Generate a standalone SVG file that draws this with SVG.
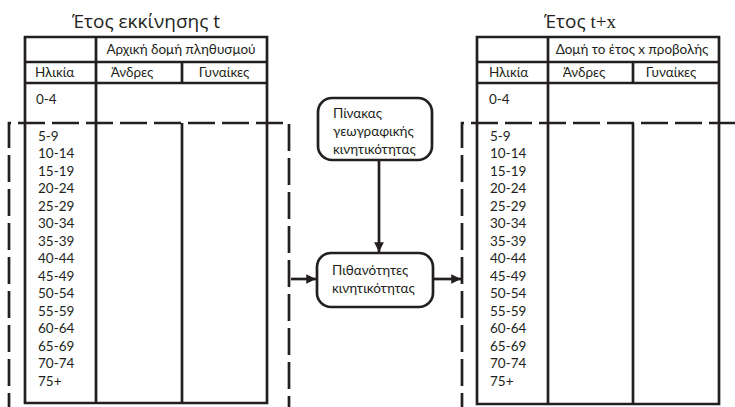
<svg xmlns="http://www.w3.org/2000/svg" width="735" height="407" viewBox="0 0 735 407">
<style>
.t{font-family:Lato,"Open Sans",sans-serif;font-size:13.5px;fill:#231f20}
.ti{font-family:"Open Sans","Noto Sans",sans-serif;font-size:19px;fill:#231f20}
.ln{stroke:#231f20;stroke-width:2.7;fill:none}
.ds{stroke:#231f20;stroke-width:2.7;fill:none;stroke-dasharray:27 7}
.bx{stroke:#231f20;stroke-width:2.7;fill:#fff}
</style>
<defs>
<marker id="ah" viewBox="0 0 10 10" refX="10" refY="5" markerWidth="4.4" markerHeight="3.6" orient="auto" markerUnits="strokeWidth">
<path d="M0,0 L10,5 L0,10 z" fill="#231f20"/>
</marker>
</defs>
<rect width="735" height="407" fill="#fff"/>

<g id="left-table">
<text class="ti" x="146" y="28" text-anchor="middle">Έτος εκκίνησης t</text>
<path class="ln" d="M25,37 H267 V403 H25 Z M25,62 H267 M25,83 H267 M96,37 V403 M182,62 V83 M182,123 V403"/>
<text class="t" x="181" y="54" text-anchor="middle">Αρχική δομή πληθυσμού</text>
<text class="t" x="35" y="77">Ηλικία</text>
<text class="t" x="132" y="77" text-anchor="middle">Άνδρες</text>
<text class="t" x="224" y="77" text-anchor="middle">Γυναίκες</text>
<text class="t" x="36" y="104">0-4</text>
<g class="t">
<text x="38" y="140.5">5-9</text>
<text x="38" y="158">10-14</text>
<text x="38" y="175.5">15-19</text>
<text x="38" y="193">20-24</text>
<text x="38" y="210.5">25-29</text>
<text x="38" y="228">30-34</text>
<text x="38" y="245.5">35-39</text>
<text x="38" y="263">40-44</text>
<text x="38" y="280.5">45-49</text>
<text x="38" y="298">50-54</text>
<text x="38" y="315.5">55-59</text>
<text x="38" y="333">60-64</text>
<text x="38" y="350.5">65-69</text>
<text x="38" y="368">70-74</text>
<text x="38" y="385.5">75+</text>
</g>
</g>

<g id="left-group">
<path class="ds" d="M9,420 V123 H289 V420"/>
</g>

<g id="right-table">
<text class="ti" x="580" y="28" text-anchor="middle">Έτος <tspan font-family="Liberation Serif,serif">t+x</tspan></text>
<path class="ln" d="M477,37 H719 V404 H477 Z M477,62 H719 M477,83 H719 M548,37 V404 M633,62 V83 M633,123 V404"/>
<text class="t" x="632" y="54" text-anchor="middle">Δομή το έτος x προβολής</text>
<text class="t" x="489" y="77">Ηλικία</text>
<text class="t" x="584" y="77" text-anchor="middle">Άνδρες</text>
<text class="t" x="671" y="77" text-anchor="middle">Γυναίκες</text>
<text class="t" x="489" y="104">0-4</text>
<g class="t">
<text x="490" y="140.5">5-9</text>
<text x="490" y="158">10-14</text>
<text x="490" y="175.5">15-19</text>
<text x="490" y="193">20-24</text>
<text x="490" y="210.5">25-29</text>
<text x="490" y="228">30-34</text>
<text x="490" y="245.5">35-39</text>
<text x="490" y="263">40-44</text>
<text x="490" y="280.5">45-49</text>
<text x="490" y="298">50-54</text>
<text x="490" y="315.5">55-59</text>
<text x="490" y="333">60-64</text>
<text x="490" y="350.5">65-69</text>
<text x="490" y="368">70-74</text>
<text x="490" y="385.5">75+</text>
</g>
</g>

<g id="right-group">
<path class="ds" d="M462,420 V123 H745"/>
</g>

<g id="connectors">
<path class="ln" d="M379,160 V252" marker-end="url(#ah)"/>
<path class="ln" d="M291,279 H316" marker-end="url(#ah)"/>
<path class="ln" d="M434,279 H461" marker-end="url(#ah)"/>
</g>

<g id="node-matrix">
<rect class="bx" x="318" y="98" width="114" height="62" rx="14"/>
<text class="t" x="333" y="118">Πίνακας</text>
<text class="t" x="333" y="136">γεωγραφικής</text>
<text class="t" x="333" y="154">κινητικότητας</text>
</g>

<g id="node-prob">
<rect class="bx" x="317" y="253" width="116" height="54" rx="14"/>
<text class="t" x="332" y="275">Πιθανότητες</text>
<text class="t" x="332" y="293">κινητικότητας</text>
</g>
</svg>
